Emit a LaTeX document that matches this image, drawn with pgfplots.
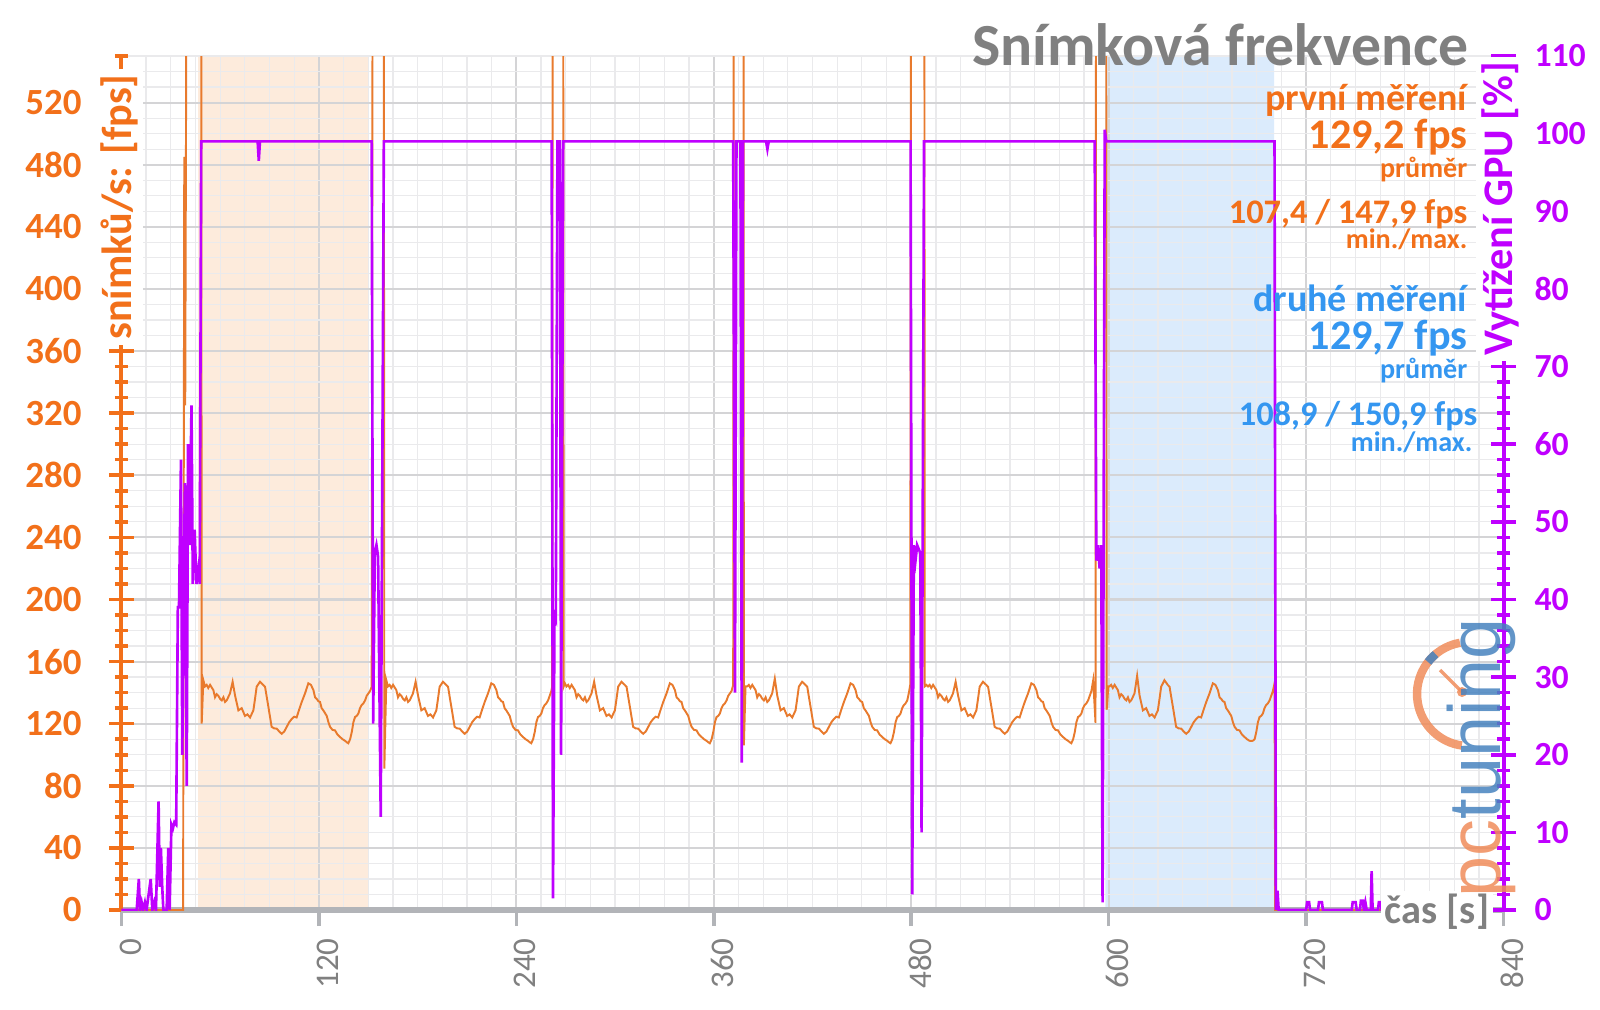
\documentclass[border=0pt]{standalone}
\usepackage{pgfplots}
\pgfplotsset{compat=1.18}
\usepackage{fontspec}
\setmainfont{Carlito}
\newfontfamily\logofont{Liberation Sans}
\definecolor{forange}{RGB}{242,112,26}
\definecolor{lorange}{RGB}{232,122,45}
\definecolor{gpupurple}{RGB}{191,0,255}
\definecolor{fblue}{RGB}{52,150,240}
\definecolor{tgrey}{RGB}{128,128,128}
\definecolor{shadeor}{RGB}{253,235,220}
\definecolor{shadebl}{RGB}{219,235,252}
\definecolor{gridmaj}{RGB}{212,212,214}
\definecolor{gridmin}{RGB}{234,234,236}
\definecolor{axgrey}{RGB}{178,180,184}
\definecolor{logoor}{RGB}{240,140,90}
\definecolor{logobl}{RGB}{70,130,190}
\pgfplotsset{
  base/.style={scale only axis, width=13.822cm, height=8.54cm,
    at={(1.214cm,0.99cm)}, anchor=south west, xmin=0, xmax=840,
    /pgf/number format/assume math mode=true},
}
\begin{document}
\begin{tikzpicture}
\path[use as bounding box] (0,0) rectangle (16cm,10.09cm);
% ---- axis A: shading + grid + x ticks
\begin{axis}[base, ymin=0, ymax=550, axis on top,
  axis x line*=bottom, axis y line*=left, axis line style={draw=none},
  xtick={0,120,...,840}, minor x tick num=7,
  ytick={0,40,...,560}, minor y tick num=3, grid=both,
  major grid style={gridmaj, line width=0.6pt},
  minor grid style={gridmin, line width=0.35pt},
  yticklabels={}, ytick style={draw=none}, minor tick style={draw=none},
  xtick style={axgrey, line width=1pt}, major tick length=0.16cm, tick align=outside,
  xticklabel style={rotate=90, anchor=east, text=tgrey,
    font=\fontsize{9.4}{9.4}\selectfont, yshift=-0.09cm},
]
\addplot[fill=shadeor, draw=none] coordinates {(46.7,0) (46.7,550) (150,550) (150,0)} \closedcycle;
\addplot[fill=shadebl, draw=none] coordinates {(598,0) (598,550) (700.5,550) (700.5,0)} \closedcycle;
\end{axis}
% ---- axis B: fps
\begin{axis}[base, ymin=0, ymax=550,
  axis x line*=bottom, axis y line*=left,
  x axis line style={axgrey, line width=1.5pt},
  y axis line style={forange, line width=1.1pt},
  xtick=\empty, ytick={0,40,...,560}, minor y tick num=3,
  ytick style={forange, line width=1pt},
  major tick length=0.25cm, minor tick length=0.13cm, tick align=center,
  yticklabel style={text=forange, font=\bfseries\fontsize{10.5}{10.5}\selectfont, xshift=-0.15cm},
]
\addplot[lorange, line width=0.55pt] coordinates {
(0,0) (37.5,0) (38.2,485) (38.8,325) (40.3,900) (48.4,900) (48.8,120)
(49.8,148) (50.8,144) (51.8,145) (52.8,143) (53.9,145) (55.9,141.6) (56.9,137) (57.9,139) (58.9,138) (60.0,136) (61.0,135) (62.0,137) (63.0,134) (64.0,135) (66.0,139.5) (67.6,147) (69.1,138) (71.1,128.6) (73.1,130) (75.1,125) (76.6,126) (78.2,124) (80.2,128.6) (81.2,136) (82.2,143.8) (84.2,147) (86.2,145) (87.3,143.8) (89.3,131) (91.3,118) (92.8,117) (94.4,116.8) (95.9,115) (97.4,113.5) (99.0,115) (100.5,118) (102.0,121) (103.5,123) (105.0,124.5) (106.5,124) (108.0,129) (109.6,134) (111.6,139.5) (113.6,146) (115.2,145) (116.7,141.6) (117.7,137) (118.7,136) (119.7,134.5) (120.7,134) (121.7,130) (122.7,128.6) (124.8,125) (125.8,121) (126.8,118) (128.3,116) (129.8,115.7) (131.3,113) (132.9,111.4) (134.4,110) (135.9,109) (137.0,108) (137.9,107.4) (139.0,110) (140.0,114.6) (141.0,121) (142.0,124.3) (143.0,125) (144.0,126.5) (145.0,130) (146.0,132) (147.0,133) (148.1,135) (149.1,138) (150.1,139.5) (151.1,141) (152.1,143.8)
(153.0,900) (159.3,900) (159.8,91)
(161.0,148) (162.0,144) (163.0,145) (164.0,143) (165.1,145) (167.1,141.6) (168.1,137) (169.1,139) (170.1,138) (171.2,136) (172.2,135) (173.2,137) (174.2,134) (175.2,135) (177.2,139.5) (178.8,147) (180.3,138) (182.3,128.6) (184.3,130) (186.3,125) (187.8,126) (189.4,124) (191.4,128.6) (192.4,136) (193.4,143.8) (195.4,147) (197.4,145) (198.5,143.8) (200.5,131) (202.5,118) (204.0,117) (205.6,116.8) (207.1,115) (208.6,113.5) (210.2,115) (211.7,118) (213.2,121) (214.7,123) (216.2,124.5) (217.7,124) (219.2,129) (220.8,134) (222.8,139.5) (224.8,146) (226.4,145) (227.9,141.6) (228.9,137) (229.9,136) (230.9,134.5) (231.9,134) (232.9,130) (233.9,128.6) (236.0,125) (237.0,121) (238.0,118) (239.5,116) (241.0,115.7) (242.5,113) (244.1,111.4) (245.6,110) (247.1,109) (248.2,108) (249.1,107.4) (250.2,110) (251.2,114.6) (252.2,121) (253.2,124.3) (254.2,125) (255.2,126.5) (256.2,130) (257.2,132) (258.2,133) (259.3,135) (260.3,138) (261.3,141) (261.8,144)
(262.3,900) (268.3,900) (268.8,144)
(269.5,146) (270.5,144) (271.5,145) (272.5,143) (273.6,145) (275.6,141.6) (276.6,137) (277.6,139) (278.6,138) (279.7,136) (280.7,135) (281.7,137) (282.7,134) (283.7,135) (285.7,139.5) (287.3,147) (288.8,138) (290.8,128.6) (292.8,130) (294.8,125) (296.3,126) (297.9,124) (299.9,128.6) (300.9,136) (301.9,143.8) (303.9,147) (305.9,145) (307.0,143.8) (309.0,131) (311.0,118) (312.5,117) (314.1,116.8) (315.6,115) (317.1,113.5) (318.7,115) (320.2,118) (321.7,121) (323.2,123) (324.7,124.5) (326.2,124) (327.7,129) (329.3,134) (331.3,139.5) (333.3,146) (334.9,145) (336.4,141.6) (337.4,137) (338.4,136) (339.4,134.5) (340.4,134) (341.4,130) (342.4,128.6) (344.5,125) (345.5,121) (346.5,118) (348.0,116) (349.5,115.7) (351.0,113) (352.6,111.4) (354.1,110) (355.6,109) (356.7,108) (357.6,107.4) (358.7,110) (359.7,114.6) (360.7,121) (361.7,124.3) (362.7,125) (363.7,126.5) (364.7,130) (365.7,132) (366.7,133) (367.8,135) (368.8,138) (369.8,139.5) (370.8,141) (371.8,145)
(372.4,900) (378.0,900) (378.3,106)
(379.3,144) (380.3,144) (381.3,145) (382.3,143) (383.4,145) (385.4,141.6) (386.4,137) (387.4,139) (388.4,138) (389.5,136) (390.5,135) (391.5,137) (392.5,134) (393.5,135) (395.5,139.5) (397.1,149) (398.6,138) (400.6,128.6) (402.6,130) (404.6,125) (406.1,126) (407.7,124) (409.7,128.6) (410.7,136) (411.7,143.8) (413.7,147) (415.7,145) (416.8,143.8) (418.8,131) (420.8,118) (422.3,117) (423.9,116.8) (425.4,115) (426.9,113.5) (428.5,115) (430.0,118) (431.5,121) (433.0,123) (434.5,124.5) (436.0,124) (437.5,129) (439.1,134) (441.1,139.5) (443.1,146) (444.7,145) (446.2,141.6) (447.2,137) (448.2,136) (449.2,134.5) (450.2,134) (451.2,130) (452.2,128.6) (454.3,125) (455.3,121) (456.3,118) (457.8,116) (459.3,115.7) (460.8,113) (462.4,111.4) (463.9,110) (465.4,109) (466.5,108) (467.4,107.4) (468.5,110) (469.5,114.6) (470.5,121) (471.5,124.3) (472.5,125) (473.5,126.5) (474.5,130) (475.5,132) (476.5,133) (477.6,135) (478.6,140) (479.4,145)
(480.2,900) (487.9,900) (488.2,144)
(489.2,145) (490.2,144) (491.2,145) (492.2,143) (493.3,145) (495.3,141.6) (496.3,137) (497.3,139) (498.3,138) (499.4,136) (500.4,135) (501.4,137) (502.4,134) (503.4,135) (505.4,139.5) (507.0,147) (508.5,138) (510.5,128.6) (512.5,130) (514.5,125) (516.0,126) (517.6,124) (519.6,128.6) (520.6,136) (521.6,143.8) (523.6,147) (525.6,145) (526.7,143.8) (528.7,131) (530.7,118) (532.2,117) (533.8,116.8) (535.3,115) (536.8,113.5) (538.4,115) (539.9,118) (541.4,121) (542.9,123) (544.4,124.5) (545.9,124) (547.4,129) (549.0,134) (551.0,139.5) (553.0,146) (554.6,145) (556.1,141.6) (557.1,137) (558.1,136) (559.1,134.5) (560.1,134) (561.1,130) (562.1,128.6) (564.2,125) (565.2,121) (566.2,118) (567.7,116) (569.2,115.7) (570.7,113) (572.3,111.4) (573.8,110) (575.3,109) (576.4,108) (577.3,107.4) (578.4,110) (579.4,114.6) (580.4,121) (581.4,124.3) (582.4,125) (583.4,126.5) (584.4,130) (585.4,132) (586.4,133) (587.5,135) (588.5,138) (589.5,141) (590.6,148)
(592.0,120.6) (592.5,900) (598.3,900) (598.8,129)
(599.8,144) (600.5,144) (601.5,145) (602.5,143) (603.6,145) (605.6,141.6) (606.6,137) (607.6,139) (608.6,138) (609.7,136) (610.7,135) (611.7,137) (612.7,134) (613.7,135) (615.7,139.5) (617.3,150.9) (618.8,138) (620.8,128.6) (622.8,130) (624.8,125) (626.3,126) (627.9,124) (629.9,128.6) (630.9,136) (631.9,143.8) (633.9,148) (635.9,145) (637.0,143.8) (639.0,131) (641.0,118) (642.5,117) (644.1,116.8) (645.6,115) (647.1,113.5) (648.7,115) (650.2,118) (651.7,121) (653.2,123) (654.7,124.5) (656.2,124) (657.7,129) (659.3,134) (661.3,139.5) (663.3,146) (664.9,145) (666.4,141.6) (667.4,137) (668.4,136) (669.4,134.5) (670.4,134) (671.4,130) (672.4,128.6) (674.5,125) (675.5,121) (676.5,118) (678.0,116) (679.5,115.7) (681.0,113) (682.6,111.4) (684.1,110) (685.6,109) (686.7,108.9) (687.6,109) (688.7,110) (689.7,114.6) (690.7,121) (691.7,124.3) (692.7,125) (693.7,126.5) (694.7,130) (695.7,132) (696.7,133) (697.8,135) (698.8,138) (699.8,141) (700.8,146)
(701.2,0) (766.7,0)
};
\end{axis}
% ---- axis C: GPU load
\begin{axis}[base, ymin=0, ymax=110,
  axis x line=none, axis y line*=right,
  y axis line style={gpupurple, line width=1.1pt},
  ytick={0,10,...,110}, minor y tick num=4,
  ytick style={gpupurple, line width=1pt},
  major tick length=0.25cm, minor tick length=0.13cm, tick align=center,
  yticklabel style={text=gpupurple, font=\bfseries\fontsize{9.6}{9.6}\selectfont, xshift=0.06cm},
]
\addplot[gpupurple, line width=0.75pt] coordinates {
(0,0) (9.3,0) (10.6,4) (11.3,0) (12.3,1) (13.2,0) (14.3,1) (15.3,0) (17.8,4) (18.8,0) (20.0,1) (21.0,0)
(22.6,14) (23.3,3) (24.0,8) (24.8,3) (25.5,0) (27.5,0) (28.5,8) (29.3,0) (30.4,11) (31.3,10.5) (32.2,11.3) (33.3,11)
(34.3,39) (35.0,39) (36.2,58) (37.0,20) (37.8,40) (38.6,55) (39.7,16) (40.5,60) (41.4,47) (42.6,65) (43.4,42)
(44.5,49) (45.6,42) (46.8,44) (47.6,42) (48.5,99) (82.8,99) (83.5,96.5) (84.2,99) (152.1,99)
(153.0,24) (154.0,46) (155.0,47) (156.0,45.5) (157.6,12) (159.5,99) (261.5,99)
(262.3,1.5) (263.2,38) (264.0,37.5) (265.0,99) (266.5,99) (267.2,20) (268.5,99) (371.8,99)
(372.9,28) (373.8,99) (376.2,99) (377.0,19) (377.8,99) (391.8,99) (392.6,98) (393.4,99) (479.6,99)
(480.6,2) (481.6,47) (482.6,45) (483.6,47) (485.5,46) (486.3,10) (487.8,99) (591.5,99)
(592.5,45) (593.5,47) (594.5,44) (595.5,47) (596.3,1) (597.6,100.5) (598.5,99) (700.8,99)
(701.6,0) (702.6,2.5) (703.3,0) (720.0,0) (720.6,1) (721.8,1) (722.4,0) (727.2,0) (727.8,1) (729.6,1) (730.2,0)
(747.7,0) (748.3,1) (750.1,1) (750.7,0) (752.7,0) (753.3,1.2) (754.5,1.2) (755.1,0) (756.0,1) (756.8,0)
(759.3,0) (759.8,5) (760.4,0) (763.7,0) (764.2,1) (765.4,1) (765.9,0) (766.7,0)
};
\end{axis}
% ---- axis titles
\node[rotate=90, fill=white, inner sep=1.5pt, text=forange,
  font=\bfseries\fontsize{12}{12}\selectfont] at (1.19cm,8.02cm) {snímků/s: [fps]};
\node[rotate=90, fill=white, inner sep=1.5pt, text=gpupurple,
  font=\bfseries\fontsize{12}{12}\selectfont] at (15.0cm,8.0cm) {Vytížení GPU [\%]};
\node[fill=white, inner sep=1pt, text=tgrey,
  font=\bfseries\fontsize{11.5}{11.5}\selectfont] at (14.37cm,0.97cm) {čas [s]};
% ---- logo
\begin{scope}[opacity=0.85]
\draw[logoor, line width=2.4pt] (14.69cm,3.15cm) ++(100:0.52cm) arc[start angle=100, end angle=262, radius=0.52cm];
\draw[logobl, line width=2.4pt] (14.69cm,3.15cm) ++(130:0.52cm) arc[start angle=130, end angle=142, radius=0.52cm];
\draw[logoor, line width=1pt] (14.62cm,3.17cm) -- (14.40cm,3.39cm);
\fill[logoor] (14.62cm,3.17cm) circle (0.05cm);
\node[rotate=90, anchor=base west, inner sep=0pt,
  font=\logofont\fontsize{21}{21}\selectfont] at (15.0cm,1.11cm)
  {\textcolor{logoor}{pc}\textcolor{logobl}{tuning}};
\end{scope}
% ---- title and statistics
\node[anchor=base east, inner sep=0pt, text=tgrey, font=\bfseries\fontsize{17}{17}\selectfont] at (14.69cm,9.44cm) {Snímková frekvence};
\node[anchor=base east, inner sep=0pt, text=forange, font=\bfseries\fontsize{10.8}{10.8}\selectfont] at (14.68cm,8.983cm) {první měření};
\node[anchor=base east, inner sep=0pt, text=forange, font=\bfseries\fontsize{12}{12}\selectfont] at (14.68cm,8.607cm) {129,2 fps};
\node[anchor=base east, inner sep=0pt, text=forange, font=\bfseries\fontsize{8}{8}\selectfont] at (14.68cm,8.32cm) {průměr};
\node[anchor=base east, inner sep=0pt, text=forange, font=\bfseries\fontsize{9.8}{9.8}\selectfont] at (14.68cm,7.86cm) {107,4 / 147,9 fps};
\node[anchor=base east, inner sep=0pt, text=forange, font=\bfseries\fontsize{8}{8}\selectfont] at (14.68cm,7.61cm) {min./max.};
\node[anchor=base east, inner sep=0pt, text=fblue, font=\bfseries\fontsize{10.8}{10.8}\selectfont] at (14.68cm,6.973cm) {druhé měření};
\node[anchor=base east, inner sep=0pt, text=fblue, font=\bfseries\fontsize{12}{12}\selectfont] at (14.68cm,6.60cm) {129,7 fps};
\node[anchor=base east, inner sep=0pt, text=fblue, font=\bfseries\fontsize{8}{8}\selectfont] at (14.68cm,6.31cm) {průměr};
\node[anchor=base east, inner sep=0pt, text=fblue, font=\bfseries\fontsize{9.8}{9.8}\selectfont] at (14.78cm,5.833cm) {108,9 / 150,9 fps};
\node[anchor=base east, inner sep=0pt, text=fblue, font=\bfseries\fontsize{8}{8}\selectfont] at (14.73cm,5.58cm) {min./max.};
\end{tikzpicture}
\end{document}
